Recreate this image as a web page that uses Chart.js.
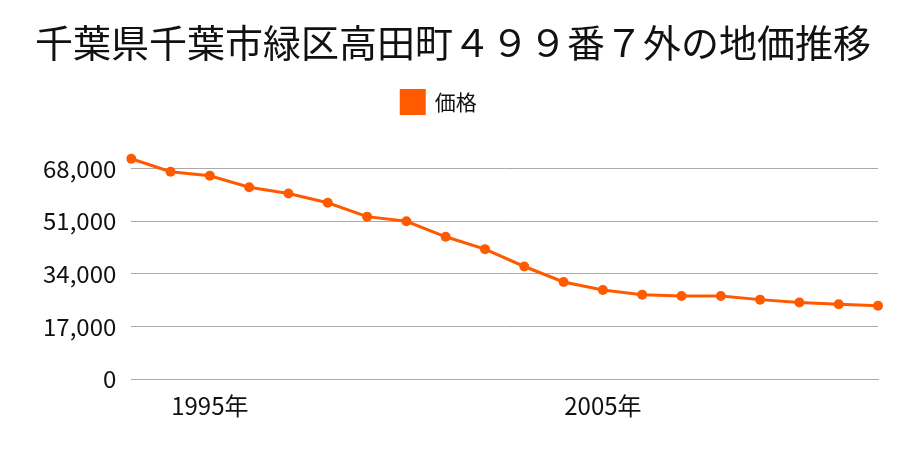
<!DOCTYPE html>
<html>
<head>
<meta charset="utf-8">
<script src="https://cdn.jsdelivr.net/npm/chart.js@4"></script>
<style>
  body { margin: 0; background: #fff; }
  #wrap { width: 900px; height: 450px; }
</style>
</head>
<body>
<div id="wrap"><canvas id="chart"></canvas></div>
<script>
const years = ['1993', '1994', '1995', '1996', '1997', '1998', '1999', '2000', '2001', '2002',
               '2003', '2004', '2005', '2006', '2007', '2008', '2009', '2010', '2011', '2012'];
const prices = [71200, 67000, 65700, 62000, 60000, 57000, 52500, 51000, 46000, 42000,
                36400, 31400, 28800, 27300, 26900, 26900, 25700, 24800, 24200, 23700];
const shownYears = ['1995', '2005'];
const yTicks = [0, 17000, 34000, 51000, 68000];

const font = '"Noto Sans CJK JP", "Noto Sans", sans-serif';
const orange = '#ff5a00';

// extra space under the legend, and nudge it left to sit where the original has it
const legendGap = {
    id: 'legendGap',
    beforeInit(chart) {
        const fit = chart.legend.fit;
        chart.legend.fit = function () {
            fit.call(this);
            this.height += 24;
        };
    },
    afterLayout(chart) {
        chart.legend.left -= 14;
        chart.legend.right -= 14;
    }
};

new Chart(document.getElementById('chart'), {
    type: 'line',
    data: {
        labels: years,
        datasets: [{
            label: '価格',
            data: prices,
            borderColor: orange,
            backgroundColor: orange,
            borderWidth: 3,
            pointRadius: 5,
            pointBackgroundColor: orange,
            pointBorderWidth: 0,
            tension: 0,
        }]
    },
    options: {
        responsive: true,
        maintainAspectRatio: false,
        animation: false,
        layout: { padding: { left: 28, right: 22, top: 14, bottom: 26 } },
        plugins: {
            title: {
                display: true,
                text: '千葉県千葉市緑区高田町４９９番７外の地価推移',
                color: '#111',
                font: { family: font, size: 38, weight: 'normal' },
                padding: { top: 6, bottom: 11 }
            },
            legend: {
                labels: {
                    color: '#111',
                    font: { family: font, size: 21 },
                    boxWidth: 23,
                    boxHeight: 23,
                    padding: 14
                }
            },
            tooltip: { enabled: false }
        },
        scales: {
            x: {
                offset: false,
                grid: { display: false },
                border: { color: '#aaa' },
                ticks: {
                    autoSkip: false,
                    maxRotation: 0,
                    color: '#111',
                    font: { family: font, size: 24 },
                    padding: 4,
                    callback(value) {
                        const y = years[value];
                        return shownYears.includes(y) ? y + '年' : '';
                    }
                }
            },
            y: {
                min: 0,
                max: 74800,
                afterBuildTicks(axis) {
                    axis.ticks = yTicks.map(v => ({ value: v }));
                },
                grid: { color: '#aaa', drawTicks: false },
                border: { display: false },
                ticks: {
                    color: '#111',
                    font: { family: font, size: 24 },
                    padding: 15,
                    callback: v => v.toLocaleString('en-US')
                }
            }
        }
    },
    plugins: [legendGap]
});
</script>
</body>
</html>
